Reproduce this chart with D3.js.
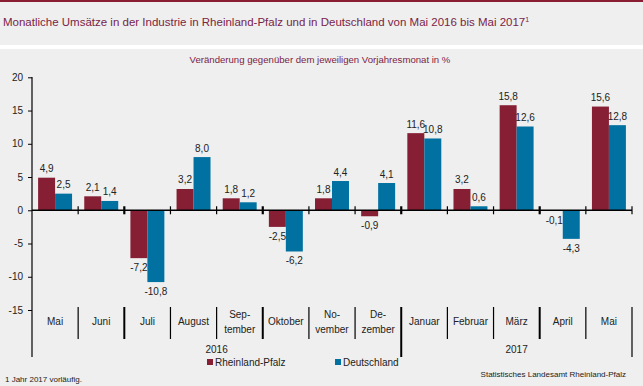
<!DOCTYPE html>
<html><head><meta charset="utf-8">
<script src="https://cdn.jsdelivr.net/npm/d3@7"></script>
<style>
html,body{margin:0;padding:0;background:#eeefee;}
svg{display:block;font-family:"Liberation Sans",Arial,sans-serif;}
</style></head>
<body>
<svg id="chart" width="643" height="386"></svg>
<script>
const months = [["Mai"],["Juni"],["Juli"],["August"],["Sep-","tember"],["Oktober"],["No-","vember"],["De-","zember"],["Januar"],["Februar"],["März"],["April"],["Mai"]];
const seriesNames = ["Rheinland-Pfalz","Deutschland"];
const rlp = [4.9,2.1,-7.2,3.2,1.8,-2.5,1.8,-0.9,11.6,3.2,15.8,-0.1,15.6];
const de  = [2.5,1.4,-10.8,8.0,1.2,-6.2,4.4,4.1,10.8,0.6,12.6,-4.3,12.8];
const yTicks = [20,15,10,5,0,-5,-10,-15];
const years = [{label:"2016",from:0,to:8},{label:"2017",from:8,to:13}];
const colors = ["#861e34","#0071a1"];

const svg = d3.select("#chart");
const W = 643, H = 386;
svg.append("rect").attr("width",W).attr("height",H).attr("fill","#eeefee");
svg.append("rect").attr("x",0).attr("y",0).attr("width",W).attr("height",2).attr("fill","#8b1d33");
svg.append("rect").attr("x",0).attr("y",45).attr("width",W).attr("height",4).attr("fill","#ffffff");

const title = svg.append("text").attr("x",3).attr("y",26).attr("font-size",11.5).attr("fill","#7a2448")
  .text("Monatliche Umsätze in der Industrie in Rheinland-Pfalz und in Deutschland von Mai 2016 bis Mai 2017");
title.append("tspan").attr("font-size",7).attr("dy",-4).text("1");

svg.append("text").attr("x",320).attr("y",63).attr("text-anchor","middle").attr("font-size",9.6).attr("fill","#7a2448")
  .text("Veränderung gegenüber dem jeweiligen Vorjahresmonat in %");

const x0 = 32, x1 = 632;
const y = d3.scaleLinear().domain([-15,20]).range([310,77.3]);
const x = d3.scaleBand().domain(d3.range(months.length)).range([x0,x1]).padding(0);
const xs = d3.scaleBand().domain(seriesNames).range([6.1, x.bandwidth()-6.1]).padding(0);

const data = months.map((m,i)=>({i, vals:[rlp[i],de[i]]}));

// bars
const g = svg.append("g");
data.forEach(d=>{
  d.vals.forEach((v,k)=>{
    g.append("rect")
      .attr("x", x(d.i)+xs(seriesNames[k]))
      .attr("y", y(Math.max(0,v)))
      .attr("width", xs.bandwidth())
      .attr("height", Math.abs(y(v)-y(0)))
      .attr("fill", colors[k]);
  });
});

// y axis
const yAxis = d3.axisLeft(y).tickValues(yTicks).tickSize(4).tickFormat(d=>d);
const ya = svg.append("g").attr("transform",`translate(${x0},0)`).call(yAxis);
ya.select(".domain").remove();
ya.selectAll("line").attr("stroke","#000");
ya.selectAll("text").attr("font-size",10).attr("fill","#222").attr("x",-9).attr("font-family","Liberation Sans, Arial, sans-serif");
svg.append("line").attr("x1",x0).attr("x2",x0).attr("y1",77).attr("y2",357).attr("stroke","#000").attr("stroke-width",1.2);

// zero line
svg.append("line").attr("x1",x0).attr("x2",x1).attr("y1",y(0)).attr("y2",y(0)).attr("stroke","#000").attr("stroke-width",1.5);
const thick = new Set([2,5,8,11]);
for(let i=1;i<=months.length;i++){
  const xx = i<months.length ? x(i) : x1;
  svg.append("line").attr("x1",xx).attr("x2",xx).attr("y1",y(0)-4).attr("y2",y(0)+4)
    .attr("stroke","#000").attr("stroke-width",thick.has(i)?2.2:1.2);
}

// value labels
const fmt = v => v.toFixed(1).replace(".",",");
data.forEach(d=>{
  d.vals.forEach((v,k)=>{
    svg.append("text")
      .attr("x", x(d.i)+xs(seriesNames[k])+xs.bandwidth()/2)
      .attr("y", v>=0 ? y(v)-5.5 : y(v)+13)
      .attr("text-anchor","middle").attr("font-size",10).attr("fill","#222")
      .text(fmt(v));
  });
});

// category separators and labels
for(let i=1;i<=months.length;i++){
  const xx = i<months.length ? x(i) : x1;
  const isYear = (i===8 || i===months.length);
  svg.append("line").attr("x1",xx).attr("x2",xx).attr("y1",307).attr("y2",isYear?357:339)
    .attr("stroke","#000").attr("stroke-width",thick.has(i)?2:1.2);
}
months.forEach((m,i)=>{
  const cx = x(i)+x.bandwidth()/2;
  if(m.length===1){
    svg.append("text").attr("x",cx).attr("y",325).attr("text-anchor","middle").attr("font-size",10).attr("fill","#222").text(m[0]);
  } else {
    svg.append("text").attr("x",cx).attr("y",318).attr("text-anchor","middle").attr("font-size",10).attr("fill","#222").text(m[0]);
    svg.append("text").attr("x",cx).attr("y",333).attr("text-anchor","middle").attr("font-size",10).attr("fill","#222").text(m[1]);
  }
});
years.forEach(yr=>{
  const cx = (x(yr.from) + (yr.to<months.length ? x(yr.to) : x1))/2;
  svg.append("text").attr("x",cx).attr("y",353).attr("text-anchor","middle").attr("font-size",10).attr("fill","#222").text(yr.label);
});

// legend
const legX = [207,335];
seriesNames.forEach((s,k)=>{
  svg.append("rect").attr("x",legX[k]).attr("y",359).attr("width",6).attr("height",6).attr("fill",colors[k]);
  svg.append("text").attr("x",legX[k]+8).attr("y",366).attr("font-size",10).attr("fill","#222").text(s);
});

// footnotes
svg.append("text").attr("x",5).attr("y",382).attr("font-size",8).attr("fill","#222").text("1 Jahr 2017 vorläufig.");
svg.append("text").attr("x",626).attr("y",377).attr("text-anchor","end").attr("font-size",8).attr("fill","#222").text("Statistisches Landesamt Rheinland-Pfalz");
</script>
</body></html>
